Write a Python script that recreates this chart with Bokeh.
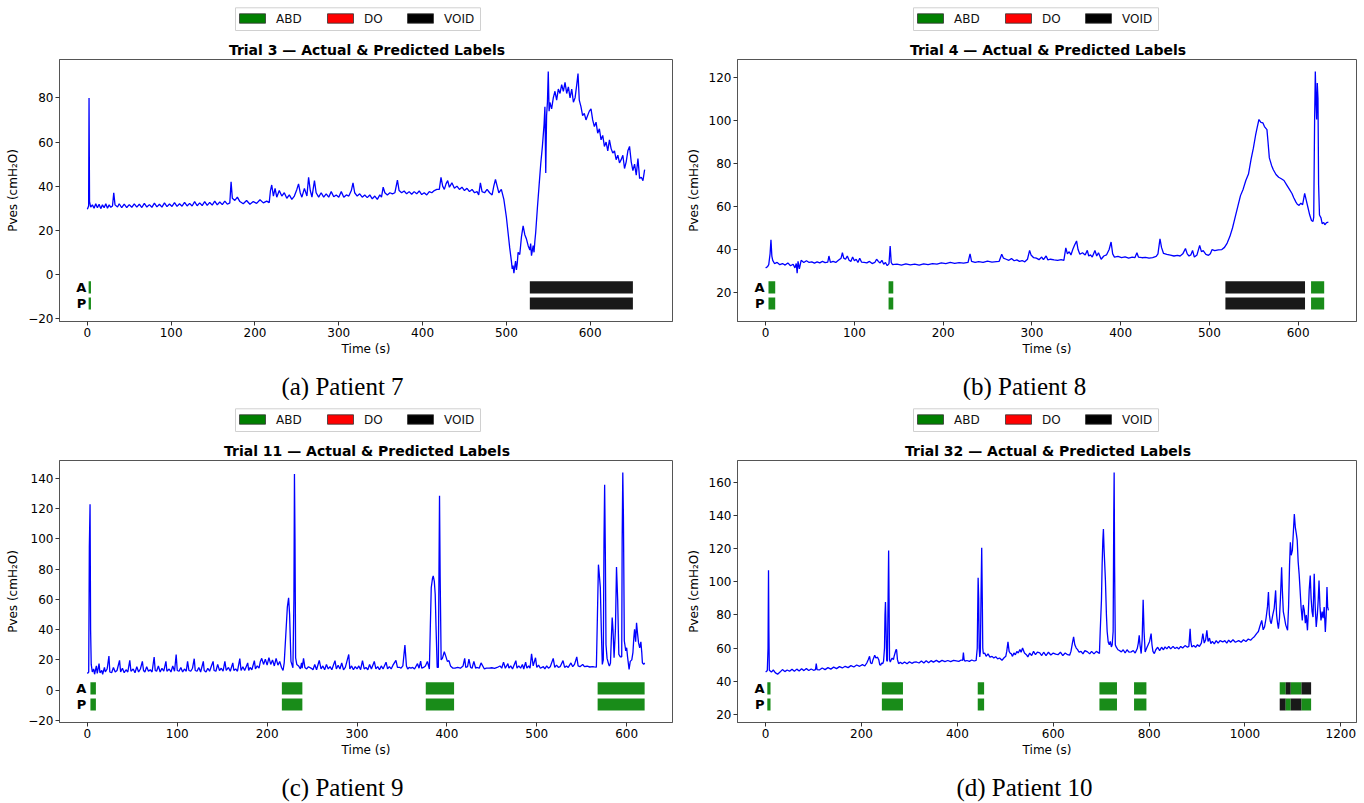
from bokeh.plotting import figure
from bokeh.models import ColumnDataSource, Range1d, SingleIntervalTicker, CustomJSTickFormatter
from bokeh.layouts import column, row
from bokeh.embed import file_html
from bokeh.resources import INLINE
from bokeh.core.properties import value

# ---------------- data ----------------
TITLES = ["Trial 3 \u2014 Actual & Predicted Labels", "Trial 4 \u2014 Actual & Predicted Labels",
          "Trial 11 \u2014 Actual & Predicted Labels", "Trial 32 \u2014 Actual & Predicted Labels"]
CAPTIONS = ["(a) Patient 7", "(b) Patient 8", "(c) Patient 9", "(d) Patient 10"]
LEGEND_NAMES = ["ABD", "DO", "VOID"]
LEGEND_COLORS = ["#008000", "#ff0000", "#000000"]
BAR_COLORS = {"ABD": "#008000", "DO": "#ff0000", "VOID": "#000000"}
X_TICK_STEP = [100, 100, 100, 200]
Y_TICK_STEP = [20, 20, 20, 20]

# (time s, Pves cmH2O)
T3_PVES = [(0,29.5),(1.5,31),(2,80),(2.6,33),(4,30.5),(6,31.5),(8,30),(10,32),(12,30.2),(14,31.8),(16,29.8),(18,31.5),
 (20,30.2),(22,32),(24,30),(26,31.5),(28,30.4),(30,31),(31.5,37),(33,31.5),(36,30.5),(38,32),(41,30.2),(44,31.8),
 (47,30.3),(50,31.6),(53,30.4),(56,32),(59,30.5),(62,31.8),(65,30.3),(68,32.2),(71,30.5),(74,31.6),(77,30.4),(80,32.3),
 (83,30.6),(86,31.8),(89,30.5),(92,32.4),(95,30.7),(98,31.9),(101,30.8),(104,32.5),(107,30.8),(110,32),(113,30.9),
 (116,32.6),(119,31),(122,32.2),(125,31),(128,33),(131,31.1),(134,32.4),(137,31.2),(140,33),(143,31.3),(146,32.6),
 (149,31.4),(152,33.2),(155,31.5),(158,32.8),(161,31.6),(164,33.2),(167,31.8),(170,32.4),(171.5,42),(173,34.5),
 (176,33.5),(179,35),(182,33),(186,32),(190,33.5),(194,31.8),(198,33),(202,32.2),(206,33.8),(210,32.4),(214,33.2),
 (217,32.5),(218.5,38),(220,40.5),(222,35.5),(224,39),(226,35),(229,38),(232,35.5),(235,37),(238,34.5),(241,36),
 (244,34),(247,35.5),(250,38.5),(252,41),(254,37),(256,35),(259,39),(262,35.5),(264,44),(266,38),(268,35),(271,42.5),
 (273,37),(276,35),(279,37),(282,35),(285,36.5),(288,35),(291,37.5),(294,35.2),(297,36),(300,35),(303,37.5),(306,35),
 (309,36),(312,35.5),(315,38),(317,41.5),(319,37),(322,35.5),(325,36.5),(328,35),(331,36),(334,34.8),(337,36),
 (340,34.2),(343,35.5),(346,34),(349,36),(351,35),(353,39.5),(355,37),(358,36),(361,37),(364,36.5),(367,37),
 (370,42.7),(372,38),(375,37),(378,37.8),(381,36.5),(384,37.5),(387,36.3),(390,37.5),(393,36.5),(396,37.8),
 (399,36.2),(402,37),(405,36),(408,37.5),(411,37),(414,38),(417,38.5),(420,38.5),(422,44),(424,40),(426,38.5),
 (428,41),(430,42.5),(432,39.5),(435,41.5),(438,39),(441,40),(444,38.5),(447,39.5),(450,38),(453,39),(456,37.5),
 (459,38.5),(462,37),(465,37.5),(467,36),(469,41.5),(471,37.5),(474,37),(477,38.5),(480,37),(483,36),(485,40),
 (487,43),(489,40),(491,37),(494,38.5),(497,34),(500,26),(502,19),(504,12),(506,6),(507,2.5),(508,4),(509,0.5),
 (510,3.5),(511,6),(512,2),(513,5),(514,10),(516,9),(518,17),(520,22),(522,18),(524,16),(526,13),(528,11),(529,14),
 (530,8.5),(532,13),(533,10),(534,15),(535,19),(537,30),(539,40),(541,50),(543,58),(545,68),(546,76),(547,46),
 (548,72),(549,78),(550,92),(551,74),(552,78),(554,75),(556,80),(558,83),(560,79),(562,84),(564,82),(566,86),
 (568,83),(570,87),(572,82),(574,85),(576,80),(578,84),(580,78),(582,80),(584,86),(585.5,91),(587,79),(589,76),
 (591,72),(593,73),(595,70),(597,72),(599,74),(601,75),(603,70),(605,67),(607,69),(609,64),(611,66),(613,61),
 (615,63),(617,58),(619,60),(621,56),(623,61),(625,57),(627,55),(629,56),(631,52),(633,54),(635,50.5),(637,52),
 (639,54),(641,48),(643,51),(645,56),(647,58),(649,51),(651,47),(653,50),(655,45),(657,52.5),(659,43.5),(661,44),
 (663,42.5),(665,47.5)]

T4_PVES = [(0,31.5),(2,32),(3.5,33),(5,38),(6,44.5),(7,37),(8,35),(10,33.5),(13,34),(16,33),(19,33.5),(22,32.8),
 (25,33.8),(28,32.5),(31,33.2),(33,31.5),(34.5,33.5),(35.5,29),(36.5,34.5),(38,31),(40,35),(43,34),(46,34.8),(49,34),
 (52,34.3),(55,33.7),(58,34.3),(61,33.8),(64,34.5),(67,33.9),(70,34.2),(71.3,37),(73,34),(76,34.5),(79,34),(82,35),
 (85,36),(86.5,38.5),(88,36),(90,35.5),(92,37),(94,35),(96,34.5),(98,36.5),(100,34.8),(102,35.5),(104,34),(106,36),
 (108,34.2),(111,34),(114,33.8),(117,34.5),(120,33.5),(123,34),(125,35.5),(127,34.5),(129,33.8),(131,35),(133,33.2),
 (135,34),(137,32.5),(139,33.5),(140.3,41.6),(141.5,34),(143,33),(148,33.2),(153,32.8),(158,33.3),(163,32.9),
 (168,33.2),(173,32.8),(178,33.4),(183,33),(188,33.5),(193,33.2),(198,33.8),(203,33.5),(208,34),(213,33.6),
 (218,33.9),(223,33.7),(228,34),(230.3,38),(232,34.5),(236,34),(240,34.4),(245,34),(250,34.6),(255,34.2),(260,34.4),
 (263,34.5),(266,37.8),(268,36),(271,35.5),(274,35),(277,35.8),(280,34.8),(283,35.2),(286,34.5),(289,34.9),
 (292,34.3),(295,35.5),(297.4,39.6),(299,37.5),(302,36.2),(305,36),(308,35.3),(311,36.5),(313,35.3),(316,37),
 (318,35.2),(321,35.5),(325,35.2),(329,35),(333,35.3),(336,35),(338.2,40.8),(340,38),(342,39),(344,37.5),(346,40),
 (348,42),(350.3,44),(352,40),(354,37.8),(357,38.5),(360,37.5),(362.4,39.6),(364,37),(366,37.5),(368,36.5),
 (371,39.6),(373,37),(375,38.5),(378,35.5),(381,37),(384,37.5),(387,40),(389.2,43.5),(391,38),(393,36.5),
 (397,36.8),(401,36.3),(405,36.6),(409,36),(413,36.5),(416,36.2),(418.3,38.5),(420,36.5),(424,36.2),(428,36.4),
 (432,36),(436,36.3),(440,36.8),(442,38),(444.3,45),(446,41),(448.3,38.2),(452,37.8),(456,37.4),(460,37),
 (464,37.3),(467,37),(470,38),(473,40.5),(475,38),(477,37),(479,37.5),(481,39.6),(483,36.5),(486,37.5),(489,41.9),
 (491,39),(493,39.5),(496,37.8),(499,37.3),(501,38),(503,40),(506,39.5),(510,39.8),(514,40),(517,41),(520,43),
 (523,46),(526,50),(529,55),(532,60),(535,65),(538,68),(541,72),(544,75),(547,82),(549.5,87),(552,93),(554,97),
 (555.8,100.3),(558,99),(560.3,98.7),(562,97),(564.8,95.6),(566,90),(567.5,82.5),(570,79),(572,77),(575,74.8),
 (578,73.5),(581,72.8),(584,72),(587,70),(590,68),(593,66),(595,64),(597.5,62),(599,61),(601,60.5),(603,61.5),
 (605,60.8),(607.3,66),(609,63),(611,59.5),(613,56),(615,53.5),(616.7,53),(617.5,55),(618.5,100),(619.3,122.6),
 (620,110),(620.8,100.3),(621.5,117.2),(622.3,110),(623,70),(624,56),(625.7,54.7),(627,52),(628.8,52.5),
 (630,51.5),(632,52.5),(634,52.7)]

T11_PVES = [(0,11),(1.5,12),(2.2,95),(3,123),(3.6,40),(4.3,17),(5.5,12),(7,14),(8,10.5),(10,16),(11,11),(13,17.5),
 (14,11.5),(16,13),(17,10.5),(19,15),(20,12),(22,14),(24,22.5),(25,12),(27,11.5),(29,15),(31,12),(33,13),(35.8,19.7),
 (37,12),(39,14.5),(41,11.5),(43,13.5),(45,12),(47.2,19.7),(48.5,12.5),(51,14),(53,11.5),(55,15.5),(57,12),(59,14),
 (61.2,19),(62.5,13),(64,12),(66,15.5),(68,12.5),(70,13.5),(72,12),(74.3,21.9),(75.5,13),(77,12.5),(79,16),(81,12),
 (83,14.5),(85,12.5),(87.4,19),(88.5,12.5),(91,14),(93,12),(95,16),(97,12.5),(98.8,23.6),(100,13),(102,12.5),
 (104,15),(106,12),(108,14),(110,12.5),(111.5,19),(113,13),(115,12.5),(117,14.5),(118.9,20.8),(120,13),(122,12.5),
 (124,15),(126,12),(129,19),(130,13),(132,12),(134,14.5),(136,12.5),(138,16),(139.9,19),(141,13),(143,12.5),
 (145,17),(147,13),(149,14.5),(151,12.5),(153,19),(154.5,13),(157,15),(159,12.5),(161.8,18),(163,13),(165,14),
 (167,12.5),(169.6,20.8),(171,13),(173,15.5),(175,13),(178.4,18),(179.5,13),(181,15),(183,13.5),(185.8,19.5),
 (187,14),(189,16),(191,14.5),(192.5,19),(194,21),(196,17),(198,20.5),(200,16.5),(202,21.5),(204,17),(206,20),
 (208,16),(210,21),(212,16.5),(214,19),(216,15),(217.7,13),(219,18),(220.8,37),(222.5,55),(223.9,61),(225,50),
 (226.5,19),(228.7,14.8),(229.8,60),(230.4,143),(231,100),(231.7,21.4),(233,17),(235,16),(237,14),(238.3,18),
 (239,14.5),(240.5,21),(242,15),(244,14),(246,15.5),(249.2,14.4),(251,13.5),(253,17),(255,13.5),(258,19.7),
 (260,14),(262,16),(264,13.5),(266,17),(268,14),(270,15.5),(272,13.5),(275.5,19.5),(277,14),(279,16.5),(281,14),
 (283,18),(285,13.5),(287,15),(290.8,23.6),(292,14),(294,16),(296,13.5),(298,15.5),(300,14),(302,16),(304,13.5),
 (306.1,19.5),(308,14),(310,15),(312,13.5),(314,17),(316,14),(319.2,19),(321,14),(323,15.5),(325,13.5),(327,16),
 (329,14),(332.3,18.5),(334,14),(336,15.5),(338,14),(340,16.5),(343.3,19.7),(345,15),(347.7,15),(349,14.5),
 (351,16),(353.3,29.8),(355,16),(356.4,14),(358,15),(360,14.5),(362,15),(364,14),(367.3,17.5),(369,14.5),
 (370.8,19.2),(372,14.5),(374,15),(376.1,16),(378.3,19),(380.5,14),(381.5,40),(382.6,67.8),(384,74),(384.8,75.5),
 (386,72),(387,63.4),(388,40),(389.2,15),(390.5,15),(391.2,80),(391.8,128.5),(392.5,75),(393.6,20),(395,21),
 (397.1,25.4),(399,22),(400.5,19),(402.3,19.5),(404,16),(406.7,14.5),(409,14.5),(412,15),(415,14.5),(418,16),
 (419.8,21),(421,15),(423,15.5),(424.5,20.5),(426.4,15),(428,14.5),(430,19),(432,14.5),(433,15),(436,14.5),
 (438,18),(441.7,14),(444,14.5),(447,14.5),(450,14.8),(453,14.4),(456,15),(459,16),(461,14.5),(463,18.5),
 (465,14.5),(467.9,17.5),(469,14.5),(471,16),(473,14),(476.7,19.5),(478,14.5),(480,16),(482,14.5),(484,17),
 (485.5,14),(487.6,18.5),(489,14.5),(491,16),(492.5,14.5),(494.2,24),(496,16),(498.6,21.4),(500,15),(502,16.5),
 (504,14.5),(507.3,15.5),(509,14),(511,16),(513,14.5),(515,15.5),(518.3,21),(520,15),(522,16.5),(524,15),
 (526,15.5),(529.2,19.5),(531,15),(533,16),(535,15),(538,18),(540,15.5),(542,17),(544.5,22),(546,16),(548,15.5),
 (551.1,17),(553,15.5),(556,15.8),(559,15.3),(562,15.6),(564,15.4),(566.3,15.2),(567.5,50),(568.6,83),(569.5,77),
 (570.7,67.8),(571.8,40),(572.9,17),(574,20),(574.8,100),(575.5,135.8),(576.3,90),(577,30),(578.2,21),(580,17),
 (580.8,16),(582,18),(583,35),(583.9,48),(584.8,40),(586,21.4),(587.5,40),(588.7,81.5),(590,60),(591.3,23.6),
 (593,22),(594.5,22),(595,100),(595.7,144),(596.4,115),(597.4,32.5),(599,26),(600,28),(601,22),(602.7,13.7),
 (604,19),(605.7,20),(607,25),(608,35),(608.8,40.2),(610,32),(611,44.6),(612,38),(613.2,31.4),(614.5,28),
 (615.8,32),(616.8,25),(617.5,18.1),(619,17),(620,18)]

T32_PVES = [(0,45.6),(2,46),(3.5,46.6),(5,60),(6,107),(6.8,70),(7.7,46.6),(12,45.5),(16,46.8),(20,45.2),(25,44.2),
 (30,45.5),(35,47),(40,45.8),(45,46.8),(50,46),(55,47.2),(60,46),(65,47.3),(70,46.2),(75,47.5),(80,46.4),(85,47.6),
 (90,46.5),(95,47.4),(100,46.6),(104,47),(105.6,50.6),(107.3,47),(112,46.8),(118,48),(124,47),(130,48.2),(136,47.3),
 (142,48.5),(148,47.6),(154,48.8),(160,48),(166,49),(172,48.2),(178,49.4),(184,48.6),(190,49.8),(196,49),(202,50),
 (207,49.2),(211,51),(214,53),(216.8,55),(219,51),(221.8,50.6),(224,53),(227.6,55.7),(230,54),(233.4,54.5),
 (236,53),(238,50),(240,49.6),(242,51),(244.2,50.6),(246,52),(248,60),(249,80),(250,87.8),(251,75),(252.5,52.6),
 (254,52),(255.5,90),(256.6,118.9),(257.5,90),(258.5,53),(260,51.6),(262,53),(264,54),(266.6,53),(268,55),(270,57),
 (272,59),(273.2,59),(275,53),(277.4,50.6),(281,51.5),(285,50.5),(289.8,51.6),(295,50.5),(300,51.8),(305,50.8),
 (310,51.5),(314.7,51.6),(320,51),(325,52.2),(330,51),(335,52.3),(340,51.2),(345,52.4),(350,51.5),(356.2,52.6),
 (362,51.5),(368,52.6),(374,51.8),(380,52.5),(386,51.8),(392,52.6),(397.7,52.3),(403,52),(408,52.8),(411,52.5),
 (412.6,57.3),(414,53),(415.9,52.1),(420,52.5),(425,52),(430,52.8),(435,52.2),(439.2,52.6),(441.5,60),(443.3,102.4),
 (444.5,90),(445.5,60),(446.7,54.7),(448,58),(449.5,95),(450.8,120.5),(452,90),(453,60),(454.1,56.7),(457,57),
 (460,55),(464,56.5),(468,54.5),(472.4,55),(476,54),(480,54.8),(484,53.5),(488,54),(493.1,52.6),(497,54),(501,55),
 (503,58),(505.6,63.7),(508,58),(510,57),(512.2,56.7),(515,55),(518,57),(521,56),(524,58),(527,57),(530.5,59.1),
 (533,57.5),(536,60),(540,57),(544,56),(547,54.7),(551,57),(555,55.5),(559,58),(563,56),(567,57.5),(571.9,57.1),
 (576,55.5),(580,57.5),(585,55.5),(590,57.5),(595,55.8),(600,57),(605.1,56.3),(610,56),(615,57.5),(620,55.5),
 (625,57),(630,56),(634.2,55.7),(637,58),(640,63),(642.5,66.7),(645,62),(648,60),(650.8,59.1),(654,57.5),(658,58),
 (662,56.5),(666,58.5),(671.5,57.7),(676,56.5),(680,58),(685,56.5),(690,58),(696.4,56.7),(698,70),(700.6,88.8),
 (702,110),(703.5,125),(704.7,131.9),(706,120),(708.9,100.8),(711,80),(712.5,70),(714.7,63.7),(717,62),(719,64),
 (721.3,60.7),(723,62),(725,70),(726.3,140),(727.1,166),(728,110),(729.5,62),(731.3,60.7),(735,59),(738,58.5),
 (742.1,57.7),(746,59),(750,57),(754,59),(758,57.5),(762.8,57.7),(767,58.5),(771,57),(775.3,59.7),(777.5,63),
 (779.4,67.7),(781,62),(783.5,56.7),(785.5,65),(787.6,89.2),(789.5,70),(791.8,57.7),(795,60),(798,62),(801,64),
 (804.2,68.7),(806,62),(808,58),(810.9,56.7),(814,59),(818,60.5),(822,58.5),(826,60.5),(830,59),(833.3,60.7),
 (837,59.5),(841,61),(845,59.5),(850,61),(854.1,59.7),(858,60.5),(862,59.5),(866,61),(870,60),(875,61.5),
 (880,60.5),(883,61),(885.6,71.7),(887,64),(889,60.7),(893,61.5),(897,60.5),(901,62),(905,61),(909,63),
 (912.2,68.7),(915,63),(918,65),(920.5,70.7),(923,64),(926,66),(928.8,62.7),(932,64),(936,62.5),(940,64.5),
 (944,63),(948,64.5),(953.7,63.7),(958,64.5),(962,63),(966,64.8),(970,63.5),(975,65),(980,63.5),(986.9,64.5),
 (992,63.5),(997,65),(1002,64),(1007,65.5),(1011.7,64.7),(1016,66),(1020,67),(1024.2,68.7),(1028,70),(1031,73),
 (1035,76.7),(1038,71),(1040.8,72.7),(1044,78),(1047,85),(1049,93.8),(1051,80),(1053,76),(1054.9,74.7),(1058,80),
 (1061,84),(1064,94.8),(1066,80),(1068,75),(1069.8,71.7),(1072,78),(1074,90),(1076.5,108.8),(1078,95),(1080,82),
 (1082.2,78.7),(1085,74),(1088.9,70.7),(1091,85),(1093,110),(1094.7,123.9),(1096.5,116),(1098.9,118.9),(1101,130),
 (1103,140.9),(1105,133),(1107.2,128.9),(1109,125),(1111,112),(1113,104.8),(1115,95),(1117,85),(1119.6,76.7),
 (1121.5,86),(1123.8,82.7),(1126,75),(1128,80),(1130.4,70.7),(1132,80),(1134,95),(1136.2,103.8),(1138,90),
 (1140,82),(1142,78.7),(1144.5,104.8),(1146.5,85),(1148.7,72.7),(1151,80),(1153,90),(1154.5,100.8),(1156.5,85),
 (1158.6,76.7),(1161,82),(1163,78),(1165.3,84.8),(1167.7,69.7),(1169.5,80),(1171.1,96.8),(1172.5,85),(1174,82.7)]

# label segments (start s, end s, class): actual (A) and predicted (P)
T3_ACTUAL = [(1.5, 4.3, "ABD"), (528, 651, "VOID")]
T3_PRED = [(1.5, 4.3, "ABD"), (528, 651, "VOID")]
T4_ACTUAL = [(3.2, 10.8, "ABD"), (138.5, 143.8, "ABD"), (518, 607.7, "VOID"), (614.5, 629.3, "ABD")]
T4_PRED = [(3.2, 10.8, "ABD"), (138.5, 143.8, "ABD"), (518, 607.7, "VOID"), (614.5, 629.3, "ABD")]
T11_ACTUAL = [(3.4, 9.5, "ABD"), (216.4, 239.2, "ABD"), (376.5, 408, "ABD"), (567.7, 620, "ABD")]
T11_PRED = [(3.4, 9.5, "ABD"), (216.4, 239.2, "ABD"), (376.5, 408, "ABD"), (567.7, 620, "ABD")]
T32_ACTUAL = [(3.5, 10.2, "ABD"), (242.5, 286.5, "ABD"), (442.5, 455.8, "ABD"), (696.4, 733, "ABD"),
              (768.6, 794.4, "ABD"), (1072.5, 1085, "ABD"), (1085, 1095.5, "VOID"), (1095.5, 1118, "ABD"),
              (1118, 1138, "VOID")]
T32_PRED = [(3.5, 10.2, "ABD"), (242.5, 286.5, "ABD"), (442.5, 455.8, "ABD"), (696.4, 733, "ABD"),
            (768.6, 794.4, "ABD"), (1072.5, 1085, "VOID"), (1085, 1095.5, "ABD"), (1095.5, 1118, "VOID"),
            (1118, 1138, "ABD")]

FONT = "DejaVu Sans"
FRAME_H = 262
FIG_W = 682


def blank(h, lb, fw):
    # in a column, Bokeh aligns this figure's frame with the main plot's frame,
    # so the x range is expressed in the figure's own pixel coordinates
    f = figure(width=FIG_W, height=h, x_range=Range1d(lb, lb + fw), y_range=Range1d(h, 0),
               x_axis_location=None, y_axis_location=None, min_border=0,
               min_border_left=lb, min_border_right=FIG_W - lb - fw,
               toolbar_location=None, tools="", output_backend="svg")
    f.outline_line_color = None
    f.grid.visible = False
    return f


def make_header(lb, fw, title, h, dy):
    f = blank(h, lb, fw)
    x0 = lb + 176
    # legend frame
    f.quad(left=[x0], right=[x0 + 245], top=[7.3 + dy], bottom=[30 + dy],
           fill_color="white", line_color="#d0d0d0", line_width=1)
    # legend patches and labels
    offs = [4, 92, 172]
    f.quad(left=[x0 + o for o in offs], right=[x0 + o + 26 for o in offs],
           top=[13.3 + dy] * 3, bottom=[22.7 + dy] * 3,
           fill_color=LEGEND_COLORS, line_color="#333333", line_width=0.8)
    f.text(x=[x0 + o + 36.5 for o in offs], y=[18.6 + dy] * 3, text=LEGEND_NAMES,
           text_align="left", text_baseline="middle", text_font=value(FONT),
           text_font_size="12px", text_color="#111111")
    # title
    f.text(x=[lb + fw / 2 + 1], y=[49.6 + dy], text=[title], text_align="center",
           text_baseline="middle", text_font=value(FONT), text_font_style="bold",
           text_font_size="14px", text_color="black")
    return f


def make_footer(lb, fw, caption, h, mid):
    f = blank(h, lb, fw)
    f.text(x=[342], y=[mid], text=[caption], text_align="center", text_baseline="middle",
           text_font=value("Liberation Serif"), text_font_size="25px", text_color="black")
    return f


def make_main(sig, act, pred, xstep, ystep, lb, rb, fw):
    t = [q[0] for q in sig]
    v = [q[1] for q in sig]
    lo, hi = min(v), max(v)
    R = hi - lo
    a_top = lo - 0.04 * R
    a_bot = a_top - 0.06 * R
    p_top = a_bot - 0.02 * R
    p_bot = p_top - 0.06 * R
    ypad = 0.05 * (hi - p_bot)
    xpad = 0.05 * (t[-1] - t[0])

    p = figure(frame_width=fw, frame_height=FRAME_H, title=None,
               x_range=Range1d(t[0] - xpad, t[-1] + xpad),
               y_range=Range1d(p_bot - ypad, hi + ypad),
               output_backend="svg", toolbar_location=None, tools="",
               min_border_left=lb, min_border_right=rb, min_border_top=1, min_border_bottom=40)
    p.xgrid.visible = False
    p.ygrid.visible = False
    p.outline_line_color = "#555555"
    p.outline_line_width = 1

    # label bars
    L, Rr, B, T, C = [], [], [], [], []
    for segs, (b0, b1) in ((act, (a_bot, a_top)), (pred, (p_bot, p_top))):
        for s, e, lab in segs:
            L.append(s); Rr.append(e); B.append(b0); T.append(b1); C.append(BAR_COLORS[lab])
    p.quad(left="left", right="right", bottom="bottom", top="top", fill_color="color",
           fill_alpha=0.9, line_color=None,
           source=ColumnDataSource(dict(left=L, right=Rr, bottom=B, top=T, color=C)))

    p.line(t, v, line_color="#0000ff", line_width=1.3)

    p.text(x=[0, 0], y=[(a_bot + a_top) / 2, (p_bot + p_top) / 2], text=["A", "P"],
           text_align="right", text_baseline="middle", x_offset=-1,
           text_font=value(FONT), text_font_style="bold", text_font_size="13px", text_color="black")

    for ax in (p.xaxis[0], p.yaxis[0]):
        ax.major_label_text_font = FONT
        ax.major_label_text_font_size = "12px"
        ax.major_label_text_color = "black"
        ax.axis_label_text_font = FONT
        ax.axis_label_text_font_size = "12px"
        ax.axis_label_text_font_style = "normal"
        ax.axis_label_text_color = "black"
        ax.axis_line_color = "#555555"
        ax.major_tick_line_color = "#333333"
        ax.major_tick_out = 4
        ax.major_tick_in = 0
        ax.minor_tick_line_color = None
    p.xaxis.axis_label = "Time (s)"
    p.yaxis.axis_label = "Pves (cmH\u2082O)"
    p.xaxis.major_label_standoff = 2
    p.yaxis.major_label_standoff = 2
    p.xaxis.axis_label_standoff = 2
    p.yaxis.axis_label_standoff = 5
    p.xaxis.ticker = SingleIntervalTicker(interval=xstep, num_minor_ticks=0)
    p.yaxis.ticker = SingleIntervalTicker(interval=ystep, num_minor_ticks=0)
    p.yaxis.formatter = CustomJSTickFormatter(
        code="return tick < 0 ? '\u2212' + Math.abs(tick) : String(tick);")
    return p


# left panels: frame 59..672 ; right panels: frame 737..1356 (page pixels)
LEFT = dict(lb=59, rb=10, fw=613)
RIGHT = dict(lb=55, rb=8, fw=619)

col_a = column(make_header(LEFT["lb"], LEFT["fw"], TITLES[0], 58, 0),
               make_main(T3_PVES, T3_ACTUAL, T3_PRED, X_TICK_STEP[0], Y_TICK_STEP[0], **LEFT),
               make_footer(LEFT["lb"], LEFT["fw"], CAPTIONS[0], 39, 24.6))
col_b = column(make_header(RIGHT["lb"], RIGHT["fw"], TITLES[1], 58, 0),
               make_main(T4_PVES, T4_ACTUAL, T4_PRED, X_TICK_STEP[1], Y_TICK_STEP[1], **RIGHT),
               make_footer(RIGHT["lb"], RIGHT["fw"], CAPTIONS[1], 39, 24.6))
col_c = column(make_header(LEFT["lb"], LEFT["fw"], TITLES[2], 59, 1),
               make_main(T11_PVES, T11_ACTUAL, T11_PRED, X_TICK_STEP[2], Y_TICK_STEP[2], **LEFT),
               make_footer(LEFT["lb"], LEFT["fw"], CAPTIONS[2], 41, 24.6))
col_d = column(make_header(RIGHT["lb"], RIGHT["fw"], TITLES[3], 59, 1),
               make_main(T32_PVES, T32_ACTUAL, T32_PRED, X_TICK_STEP[3], Y_TICK_STEP[3], **RIGHT),
               make_footer(RIGHT["lb"], RIGHT["fw"], CAPTIONS[3], 41, 24.6))

layout = column(row(col_a, col_b), row(col_c, col_d))
open("out.html", "w").write(file_html(layout, INLINE))
